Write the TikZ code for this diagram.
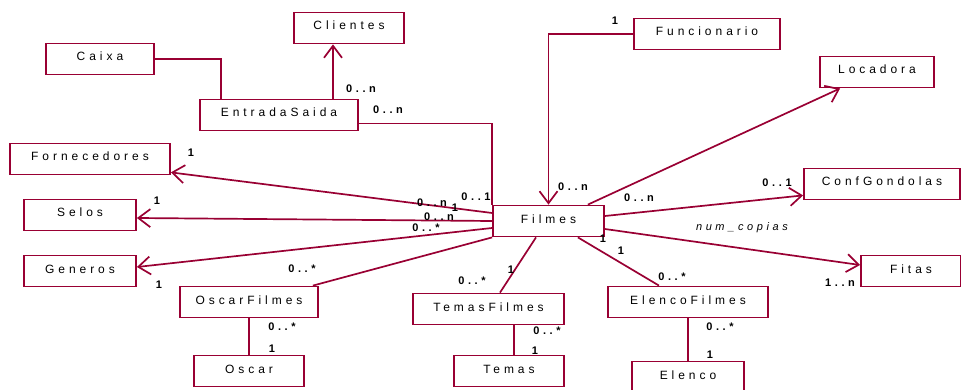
\documentclass[tikz,border=0pt]{standalone}
\usepackage{fontspec}
\setmainfont{Liberation Sans}
\newfontfamily\spacedfont[LetterSpace=33]{Liberation Sans}
\usepackage{tikz}
\usetikzlibrary{arrows.meta}
\definecolor{umlred}{HTML}{990033}

\begin{document}
\begin{tikzpicture}[
  x=1pt, y=-1pt,
  box/.style={rectangle, draw=umlred, line width=1.8pt, inner sep=0pt,
              minimum height=31pt, text height=9pt, text depth=5pt,
              font=\spacedfont\fontsize{12}{14}\selectfont},
  assoc/.style={draw=umlred, line width=1.7pt},
  arr/.style={assoc, -{Straight Barb[length=12pt, width=18pt]}},
  mult/.style={inner sep=0pt,
               font=\spacedfont\bfseries\fontsize{11}{13}\selectfont}
]
  \useasboundingbox (0,0) rectangle (961,390);

  % classes
  \node[box, minimum width=110pt] (clientes) at (349,28) {Clientes};
  \node[box, minimum width=108pt] (caixa) at (100,59) {Caixa};
  \node[box, minimum width=158pt] (entrada) at (279,115) {EntradaSaida};
  \node[box, minimum width=160pt] (fornec) at (90,159) {Fornecedores};
  \node[box, minimum width=146pt] (funcion) at (707,34) {Funcionario};
  \node[box, minimum width=114pt] (locadora) at (877,72) {Locadora};
  \node[box, minimum width=156pt] (conf) at (882,184) {ConfGondolas};
  \node[box, minimum width=112pt] (selos) at (80,215) {Selos};
  \node[box, minimum width=112pt] (generos) at (80,271) {Generos};
  \node[box, minimum width=111pt] (filmes) at (548.5,221) {Filmes};
  \node[box, minimum width=100pt] (fitas) at (911,271) {Fitas};
  \node[box, minimum width=138pt] (oscarf) at (249,302) {OscarFilmes};
  \node[box, minimum width=110pt] (oscar) at (249,371) {Oscar};
  \node[box, minimum width=151pt] (temasf) at (488.5,309) {TemasFilmes};
  \node[box, minimum width=110pt] (temas) at (509,371) {Temas};
  \node[box, minimum width=160pt] (elencof) at (688,302) {ElencoFilmes};
  \node[box, minimum width=112pt] (elenco) at (688,377) {Elenco};

  % associations
  \draw[assoc] (caixa.east) -| ([xshift=22pt]entrada.north west);
  \draw[arr] ([xshift=-16pt]clientes.south |- entrada.north)
    -- ([xshift=-16pt]clientes.south);
  \draw[assoc] ([yshift=8pt]entrada.south east) -| (filmes.north west);
  \draw[arr] (funcion.west) -| (filmes.north);
  \draw[arr] ([xshift=-17pt]filmes.north east)
    -- ([xshift=21pt]locadora.south west);
  \draw[arr] ([yshift=5pt]filmes.east) -- ([yshift=5pt]conf.south west);
  \draw[arr] ([yshift=-8pt]filmes.east) -- ([yshift=6pt]fitas.west);
  \draw[assoc] ([xshift=-27pt]filmes.south east)
    -- ([xshift=-29pt]elencof.north);
  \draw[assoc] ([xshift=-12.5pt]filmes.south)
    -- ([xshift=11.5pt]temasf.north);
  \draw[assoc] (filmes.south west) -- ([xshift=-6pt]oscarf.north east);
  \draw[arr] ([yshift=8pt]filmes.west) -- ([yshift=3pt]fornec.south east);
  \draw[arr] (filmes.west) -- ([yshift=-3pt]selos.east);
  \draw[arr] ([yshift=-7pt]filmes.west) -- ([yshift=4pt]generos.east);
  \draw[assoc] (oscarf.south) -- (oscar.north);
  \draw[assoc] ([xshift=5pt]temas.north |- temasf.south)
    -- ([xshift=5pt]temas.north);
  \draw[assoc] (elencof.south) -- (elenco.north);

  % multiplicities
  \node[mult] (mclientes) at (361,89) {0..n};
  \node[mult] (mentrada) at (388,110) {0..n};
  \node[mult] (mfilment) at (476,197) {0..1};
  \node[mult] (mfuncion) at (615,21) {1};
  \node[mult] (mfilfunc) at (573,187) {0..n};
  \node[mult] (mfilloc) at (639,198) {0..n};
  \node[mult] (mconf) at (777,183) {0..1};
  \node[mult, font=\spacedfont\itshape\fontsize{11}{13}\selectfont]
    (copias) at (742,228) {num\_copias};
  \node[mult] (mfitas) at (840,283) {1..n};
  \node[mult] (mfilfit) at (603,239) {1};
  \node[mult] (mfilelf) at (621,251) {1};
  \node[mult] (melencof) at (672,277) {0..*};
  \node[mult] (melfel) at (720,327) {0..*};
  \node[mult] (melenco) at (710,355) {1};
  \node[mult] (mfiltemf) at (511,270) {1};
  \node[mult] (mtemasf) at (472,281) {0..*};
  \node[mult] (mtemftem) at (547,331) {0..*};
  \node[mult] (mtemas) at (535,351) {1};
  \node[mult] (moscarf) at (302,269) {0..*};
  \node[mult] (moscfosc) at (282,327) {0..*};
  \node[mult] (moscar) at (272,349) {1};
  \node[mult] (mfornec) at (191,153) {1};
  \node[mult] (mselos) at (157,201) {1};
  \node[mult] (mgeneros) at (159,285) {1};
  \node[mult] (mfilforn) at (432,203) {0..n};
  \node[mult] (mfilforn1) at (455,208) {1};
  \node[mult] (mfilsel) at (439,217) {0..n};
  \node[mult] (mfilgen) at (426,228) {0..*};
\end{tikzpicture}
\end{document}
